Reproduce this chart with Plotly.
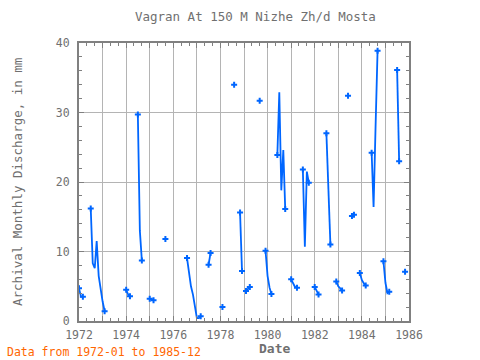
import plotly.graph_objects as go

# ---- data (monthly values, None = missing month) ----
months = [
    "1972-01", "1972-02", "1972-03", "1972-04",
    "1972-07", "1972-08", "1972-09", "1972-10", "1972-11", "1972-12", "1973-01", "1973-02", "1973-03",
    "1974-01", "1974-02", "1974-03", "1974-04",
    "1974-07", "1974-08", "1974-09", "1974-10",
    "1975-01", "1975-02", "1975-03", "1975-04",
    "1975-09", "1975-10",
    "1976-08", "1976-09", "1976-10", "1976-11", "1976-12", "1977-01", "1977-02", "1977-03", "1977-04",
    "1977-07", "1977-08", "1977-09",
    "1978-02", "1978-03",
    "1978-08", "1978-09",
    "1978-11", "1978-12", "1979-01",
    "1979-02", "1979-03", "1979-04", "1979-05",
    "1979-09", "1979-10",
    "1979-12", "1980-01", "1980-02", "1980-03", "1980-04",
    "1980-06", "1980-07", "1980-08", "1980-09", "1980-10", "1980-11",
    "1981-01", "1981-02", "1981-03", "1981-04", "1981-05",
    "1981-07", "1981-08", "1981-09", "1981-10", "1981-11",
    "1982-01", "1982-02", "1982-03", "1982-04",
    "1982-07", "1982-08", "1982-09", "1982-10",
    "1982-12", "1983-01", "1983-02", "1983-03", "1983-04",
    "1983-06", "1983-07",
    "1983-08", "1983-09", "1983-10",
    "1983-12", "1984-01", "1984-02", "1984-03", "1984-04",
    "1984-06", "1984-07", "1984-08", "1984-09", "1984-10",
    "1984-12", "1985-01", "1985-02", "1985-03", "1985-04",
    "1985-07", "1985-08", "1985-09",
    "1985-11",
]
discharge = [
    4.7, 3.5, 3.5, None,
    16.2, 8.3, 7.6, 11.5, 6.5, 4.3, 2.8, 1.4, None,
    4.5, 3.8, 3.55, None,
    29.7, 13.0, 8.7, None,
    3.2, 3.1, 3.0, None,
    11.8, None,
    9.05, 7.0, 5.0, 3.8, 2.0, 0.4, 0.4, 0.7, None,
    8.1, 9.8, None,
    2.0, None,
    34.0, None,
    15.6, 7.2, None,
    4.3, 4.6, 4.9, None,
    31.7, None,
    10.1, 6.5, 4.8, 3.9, None,
    23.9, 32.9, 18.8, 24.6, 16.1, None,
    6.0, 5.3, 4.9, 4.8, None,
    21.8, 10.7, 21.5, 19.9, None,
    4.9, 4.4, 3.8, None,
    27.0, 19.0, 11.0, None,
    5.7, 5.0, 4.7, 4.4, None,
    32.4, None,
    15.1, 15.3, None,
    6.9, 5.9, 5.4, 5.1, None,
    24.2, 16.4, 28.0, 38.9, None,
    8.6, 5.5, 4.0, 4.2, None,
    36.1, 23.0, None,
    7.1,
]
years = list(range(1972, 1987))
y_ticks = [0, 10, 20, 30, 40]

dates = [m + "-01" for m in months]

# markers only at segment ends / isolated points
mk_x, mk_y = [], []
for i, v in enumerate(discharge):
    if v is None:
        continue
    prev_none = i == 0 or discharge[i - 1] is None
    next_none = i == len(discharge) - 1 or discharge[i + 1] is None
    if prev_none or next_none:
        mk_x.append(dates[i])
        mk_y.append(v)

BLUE = "#0066ff"
GREY = "#808080"
TXT = "#707070"
FONT = "DejaVu Sans Mono"

fig = go.Figure()
fig.add_trace(go.Scatter(x=dates, y=discharge, mode="lines",
                         line=dict(color=BLUE, width=1.8), connectgaps=False,
                         hoverinfo="skip", showlegend=False))
fig.add_trace(go.Scatter(x=mk_x, y=mk_y, mode="markers",
                         marker=dict(symbol="cross", size=5, color=BLUE),
                         showlegend=False))

fig.update_layout(
    width=480, height=360,
    margin=dict(l=79, r=71, t=43, b=38.5),
    paper_bgcolor="white", plot_bgcolor="white",
    title=dict(text="Vagran At 150 M Nizhe Zh/d Mosta", x=0.532, xanchor="center",
               y=0.953, yanchor="middle",
               font=dict(family=FONT, size=12.5, color=TXT)),
    font=dict(family=FONT, color=TXT),
)
fig.update_xaxes(
    type="date", range=["1972-01-01", "1986-01-01"],
    tickvals=[f"{y}-01-01" for y in years],
    ticktext=[str(y) if y % 2 == 0 else "" for y in years],
    ticks="inside", ticklen=5, tickwidth=1, tickcolor=GREY,
    showgrid=True, gridcolor="#b4b4b4", gridwidth=1,
    showline=True, linecolor=GREY, linewidth=2, mirror="ticks",
    zeroline=False, ticklabelstandoff=2,
    tickfont=dict(family=FONT, size=11.5, color=TXT),
    minor=dict(dtick="M4", tick0="1972-01-01", ticks="inside", ticklen=3,
               tickcolor=GREY, showgrid=False),
)
fig.update_yaxes(
    range=[0, 40], tickvals=y_ticks,
    ticks="inside", ticklen=5, tickwidth=1, tickcolor=GREY,
    showgrid=True, gridcolor="#b4b4b4", gridwidth=1,
    showline=True, linecolor=GREY, linewidth=2, mirror="ticks",
    zeroline=False, ticklabelstandoff=5,
    tickfont=dict(family=FONT, size=11.5, color=TXT),
    minor=dict(dtick=2, ticks="inside", ticklen=3, tickcolor=GREY, showgrid=False),
)
fig.add_annotation(text="Archival Monthly Discharge, in mm", textangle=-90,
                   xref="paper", yref="paper", x=-0.188, y=0.5,
                   xanchor="center", yanchor="middle", showarrow=False,
                   font=dict(family=FONT, size=12.5, color=TXT))
fig.add_annotation(text="<b>Date</b>", xref="paper", yref="paper",
                   x=0.591, y=-0.1, xanchor="center", yanchor="middle",
                   showarrow=False, font=dict(family=FONT, size=13, color=TXT))
fig.add_annotation(text="Data from 1972-01 to 1985-12", xref="paper", yref="paper",
                   x=-0.224, y=-0.112, xanchor="left", yanchor="middle",
                   showarrow=False, font=dict(family=FONT, size=11.5, color="#ff6600"))

fig.write_html("out.html", config={"displayModeBar": False},
               post_script="document.body.style.margin='0';document.body.style.overflow='hidden';")
